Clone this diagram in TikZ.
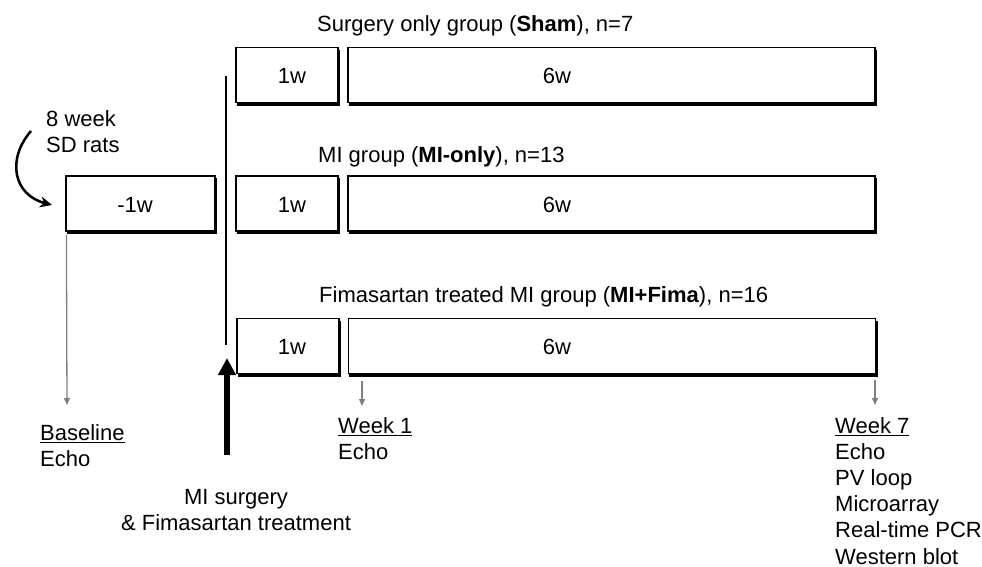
\documentclass[tikz,border=0pt]{standalone}
\usepackage{fontspec}
\setmainfont{Liberation Sans}
\usetikzlibrary{arrows.meta,calc}
\begin{document}
\begin{tikzpicture}[x=1pt,y=-1pt,
  every node/.style={font=\fontsize{22}{26.2}\selectfont, inner sep=0pt},
  box/.style={draw, line width=1.2pt, fill=white, minimum height=55pt},
  shadowfill/.style={fill=black},
  grayarrow/.style={draw=black!50, line width=1.3pt, -{Triangle[width=6pt,length=7pt]}},
  title/.style={anchor=base west},
  stack/.style={anchor=north west, align=left}
]
\useasboundingbox (0,0) rectangle (982,567);

% boxes
\node[box, minimum width=149pt] (base) at (140.5,203.5) {};
\node[box, minimum width=102pt] (a1) at (287,75) {};
\node[box, minimum width=527pt] (b1) at (611.5,75) {};
\node[box, minimum width=102pt] (a2) at (287,203.5) {};
\node[box, minimum width=527pt] (b2) at (611.5,203.5) {};
\node[box, minimum width=102pt] (a3) at (288,346) {};
\node[box, minimum width=527pt] (b3) at (612,346) {};

% shadows (bottom and right edges)
\foreach \b in {base,a1,b1,a2,b2,a3,b3}{
  \fill[shadowfill] ($(\b.south west)+(1.5,-1)$) rectangle ($(\b.south east)+(1.5,2.5)$);
  \fill[shadowfill] ($(\b.north east)+(-0.5,3)$) rectangle ($(\b.south east)+(1.5,2.5)$);
}

% box texts
\node (tb) at (135,205) {-1w};
\node (ta1) at (292,76) {1w};
\node (tb1) at (557,76) {6w};
\node (ta2) at (292,205) {1w};
\node (tb2) at (557,205) {6w};
\node (ta3) at (292,347) {1w};
\node (tb3) at (557,347) {6w};

% group titles
\node[title] (g1) at (317,32) {Surgery only group (\textbf{Sham}), n=7};
\node[title] (g2) at (318,162) {MI group (\textbf{MI-only}), n=13};
\node[title] (g3) at (319,302) {Fimasartan treated MI group (\textbf{MI+Fima}), n=16};

% rats
\node[stack] (rats) at (46,110) {8 week\\SD rats};
\coordinate (c1) at (31,131);
\coordinate (c2) at (52,205);
\draw[line width=2.5pt, -{Stealth[length=12pt,width=11pt]}] (c1) .. controls (6,160) and (14,195) .. (c2);

% vertical line and big arrow
\coordinate (v1) at (226,76);
\coordinate (v2) at (226,345);
\draw[line width=1.5pt] (v1) -- (v2);
\coordinate (m1) at (227,455);
\coordinate (m2) at (227,358);
\draw[line width=5.5pt, -{Triangle[width=17pt,length=17pt]}] (m1) -- (m2);
\node[align=center, anchor=north] (mi) at (236,489) {MI surgery\\\& Fimasartan treatment};

% gray arrows
\coordinate (p0) at (67,405);
\coordinate (p1s) at (362,381);
\coordinate (p1) at (362,406);
\coordinate (p7s) at (875,380);
\coordinate (p7) at (875,405);
\draw[grayarrow] ($(base.south west)+(1,3)$) -- (p0);
\draw[grayarrow] (p1s) -- (p1);
\draw[grayarrow] (p7s) -- (p7);

% time point labels
\node[stack] (bl) at (40,424) {\underline{Baseline}\\Echo};
\node[stack] (w1) at (338,417) {\underline{Week 1}\\Echo};
\node[stack] (w7) at (835,417) {\underline{Week 7}\\Echo\\PV loop\\Microarray\\Real-time PCR\\Western blot};
\end{tikzpicture}
\end{document}
